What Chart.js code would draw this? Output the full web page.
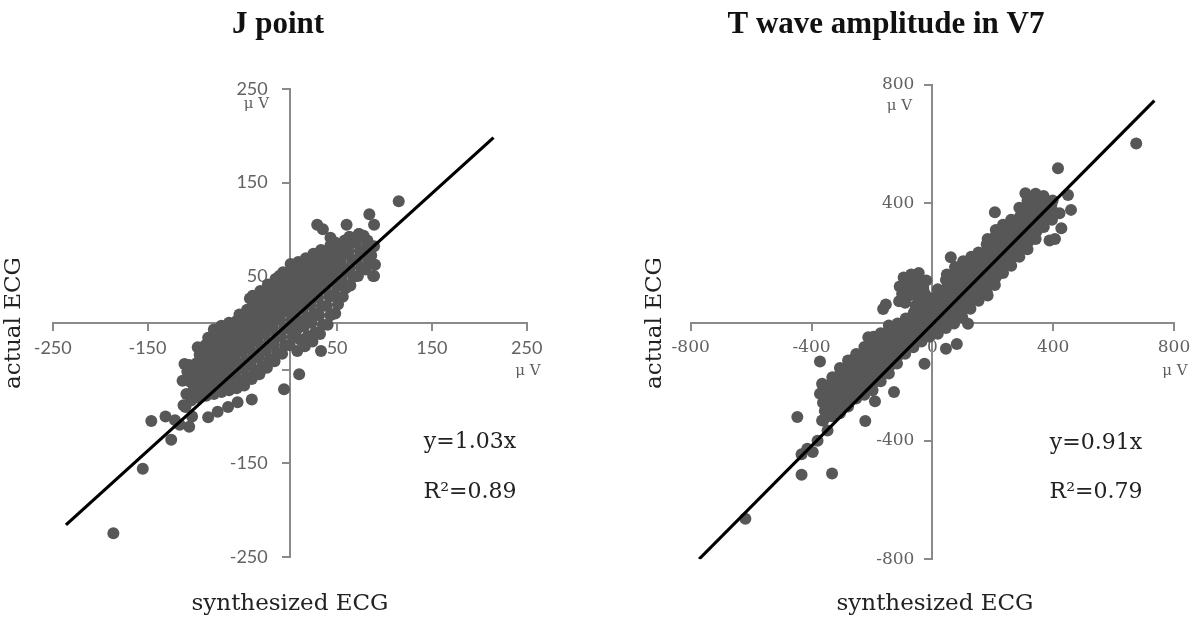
<!DOCTYPE html>
<html>
<head>
<meta charset="utf-8">
<script src="https://cdn.jsdelivr.net/npm/chart.js@4.4.1/dist/chart.umd.min.js"></script>
<style>
  html, body { margin: 0; padding: 0; background: #ffffff; }
  #wrap { position: relative; width: 1200px; height: 620px; background: #ffffff; overflow: hidden; }
  canvas { position: absolute; top: 0; }
  #cJ { left: 0; }
  #cT { left: 600px; }
</style>
</head>
<body>
<div id="wrap">
  <canvas id="cJ" width="600" height="620"></canvas>
  <canvas id="cT" width="600" height="620"></canvas>
</div>
<script>
// ---------------- data ----------------
const titles = ["J point", "T wave amplitude in V7"];
const xTitle = "synthesized ECG";
const yTitle = "actual ECG";
const unitLabel = "\u03bc V";

const jTicks = [-250, -150, -50, 50, 150, 250];
const tTicks = [-800, -400, 0, 400, 800];

const jEquation = ["y=1.03x", "R\u00b2=0.89"];
const tEquation = ["y=0.91x", "R\u00b2=0.79"];

// regression lines drawn in the figure (end points)
const jFit = [[-236, -216], [215, 198]];
const tFit = [[-772, -799], [735, 746]];

// J point: synthesized (x) vs actual (y), µV
const jPoints = [
  [115,130],[84,116],[89,105],[29,105],[35,100],[60,105],[43,91],[73,95],[82,88],[89,50],
  [-11,50],[-5,43],[-42,26],[-111,-44],[33,-30],[10,-55],[-6,-71],[-40,-82],[-55,-85],[-65,-90],
  [-76,-95],[-86,-101],[-146,-105],[-131,-100],[-121,-104],[-116,-109],[-106,-111],[-103,-100],
  [-125,-125],[-155,-156],[-186,-225],[-110,-90],[-101,-70],
  [-112,-88],[-109,-76],[-113,-62],[-108,-52],
  [-104,-83],[-101,-73],[-105,-63],[-102,-54],[-106,-45],
  [-96,-80],[-93,-71],[-97,-61],[-94,-52],[-98,-43],[-95,-34],[-97,-26],
  [-88,-78],[-85,-69],[-89,-60],[-86,-51],[-90,-42],[-87,-33],[-89,-24],[-86,-16],
  [-80,-76],[-77,-67],[-81,-58],[-78,-49],[-82,-40],[-79,-31],[-81,-22],[-78,-14],[-80,-7],
  [-72,-74],[-69,-65],[-73,-56],[-70,-47],[-74,-38],[-71,-29],[-73,-20],[-70,-11],[-72,-3],
  [-64,-72],[-61,-63],[-65,-54],[-62,-45],[-66,-36],[-63,-27],[-65,-18],[-62,-9],[-64,0],
  [-56,-70],[-53,-61],[-57,-52],[-54,-43],[-58,-34],[-55,-25],[-57,-16],[-54,-7],[-56,2],[-53,9],
  [-48,-67],[-45,-58],[-49,-49],[-46,-40],[-50,-31],[-47,-22],[-49,-13],[-46,-4],[-48,5],[-45,14],
  [-40,-60],[-37,-51],[-41,-42],[-38,-33],[-42,-24],[-39,-15],[-41,-6],[-38,3],[-40,12],[-37,21],[-39,29],
  [-32,-55],[-29,-46],[-33,-37],[-30,-28],[-34,-19],[-31,-10],[-33,-1],[-30,8],[-32,17],[-29,26],[-31,34],
  [-24,-48],[-21,-39],[-25,-30],[-22,-21],[-26,-12],[-23,-3],[-25,6],[-22,15],[-24,24],[-21,33],[-23,41],
  [-16,-41],[-13,-32],[-17,-23],[-14,-14],[-18,-5],[-15,4],[-17,13],[-14,22],[-16,31],[-13,40],[-15,47],
  [-8,-33],[-5,-24],[-9,-15],[-6,-6],[-10,3],[-7,12],[-9,21],[-6,30],[-8,39],[-5,47],[-7,54],
  [0,-24],[3,-15],[-1,-6],[2,3],[-2,12],[1,21],[-1,30],[2,39],[0,48],[3,56],[1,63],
  [8,-30],[11,-18],[7,-8],[10,2],[6,11],[9,20],[7,29],[10,38],[8,47],[11,56],[9,65],
  [16,-25],[19,-14],[15,-4],[18,6],[14,15],[17,24],[15,33],[18,42],[16,51],[19,60],[17,69],
  [24,-20],[27,-10],[23,0],[26,10],[22,19],[25,28],[23,37],[26,46],[24,55],[27,64],[25,74],
  [32,-12],[35,-2],[31,8],[34,18],[30,27],[33,36],[31,45],[34,54],[32,63],[35,72],[33,78],
  [40,-2],[43,8],[39,18],[42,28],[38,37],[41,46],[39,55],[42,64],[40,73],[43,83],
  [48,10],[51,20],[47,30],[50,39],[46,48],[49,57],[47,66],[50,75],[48,86],
  [56,28],[59,37],[55,46],[58,55],[54,64],[57,73],[55,82],[58,88],
  [64,40],[67,49],[63,58],[66,67],[62,76],[65,85],[63,92],
  [72,50],[75,59],[71,68],[74,77],[70,86],[73,95],
  [80,57],[83,66],[79,75],[82,84],[78,93],
  [88,50],[90,62],[86,72],[89,82]
];

// T wave amplitude in V7: synthesized (x) vs actual (y), µV
const tPoints = [
  [675,602],[416,518],[449,428],[459,378],[421,367],[427,316],[388,275],[406,280],[207,370],[308,434],
  [339,420],[61,218],[183,89],[118,-6],[45,-90],[81,-74],[-26,-141],[-163,44],[-154,59],[-212,-51],
  [-264,-127],[-372,-133],[-365,-208],[-353,-231],[-372,-242],[-190,-267],[-222,-334],[-447,-320],
  [-365,-332],[-433,-446],[-396,-438],[-433,-515],[-332,-511],[-619,-663],[-127,-236],
  [-347,-366],[-414,-427],[-380,-400],
  [-108,120],[-95,150],[-70,160],[-45,165],[-40,140],[-80,130],[-60,110],[-30,115],[-100,95],[-75,90],
  [-50,85],[-25,95],[-110,70],[-20,70],[-40,60],[-90,65],[-65,135],[-20,140],[-55,55],[-85,100],
  [-360,-330],[-356,-300],[-362,-272],[-357,-245],[-361,-218],
  [-333,-318],[-329,-290],[-335,-263],[-330,-236],[-334,-208],[-331,-186],
  [-306,-308],[-302,-280],[-308,-253],[-303,-226],[-307,-198],[-304,-170],[-306,-155],
  [-279,-285],[-275,-258],[-281,-231],[-276,-203],[-280,-176],[-277,-150],[-279,-130],
  [-252,-258],[-248,-232],[-254,-205],[-249,-178],[-253,-151],[-250,-125],[-252,-108],
  [-225,-245],[-221,-218],[-227,-191],[-222,-164],[-226,-137],[-223,-110],[-225,-84],
  [-198,-230],[-194,-203],[-200,-176],[-195,-149],[-199,-122],[-196,-95],[-198,-68],[-195,-50],
  [-171,-200],[-167,-173],[-173,-146],[-168,-119],[-172,-92],[-169,-65],[-171,-38],
  [-144,-174],[-140,-147],[-146,-120],[-141,-93],[-145,-66],[-142,-39],[-144,-12],
  [-117,-140],[-113,-113],[-119,-86],[-114,-59],[-118,-32],[-115,-5],
  [-90,-107],[-86,-80],[-92,-53],[-87,-26],[-91,1],[-88,12],
  [-63,-85],[-59,-58],[-65,-31],[-60,-4],[-64,23],[-61,32],
  [-36,-66],[-32,-39],[-38,-12],[-33,15],[-37,42],[-34,52],
  [-9,-50],[-5,-23],[-11,4],[-6,31],[-10,58],[-7,80],
  [18,-40],[22,-13],[16,14],[21,41],[17,68],[20,95],[18,110],
  [45,-20],[49,7],[43,34],[48,61],[44,88],[47,115],[45,142],[48,160],
  [72,-5],[76,22],[70,49],[75,76],[71,103],[74,130],[72,157],[75,185],
  [99,16],[103,43],[97,70],[102,97],[98,124],[101,151],[99,178],[102,205],
  [126,45],[130,72],[124,99],[129,126],[125,153],[128,180],[126,207],[129,220],
  [153,72],[157,99],[151,126],[156,153],[152,180],[155,207],[153,234],
  [180,100],[184,127],[178,154],[183,181],[179,208],[182,235],[180,262],[183,280],
  [207,125],[211,152],[205,179],[210,206],[206,233],[209,260],[207,287],[210,310],
  [234,165],[238,192],[232,219],[237,246],[233,273],[236,300],[234,328],
  [261,190],[265,217],[259,244],[264,271],[260,298],[263,325],[261,345],
  [288,220],[292,247],[286,274],[291,301],[287,328],[290,355],[288,385],
  [315,245],[319,272],[313,299],[318,326],[314,353],[317,380],[315,410],
  [342,280],[346,307],[340,334],[345,361],[341,388],[344,415],[342,432],
  [369,320],[373,347],[367,374],[372,401],[368,425],
  [396,345],[400,372],[394,395],[398,410]
];

// ---------------- rendering ----------------
const AXIS_COLOR = '#8a8a8a';
const TICK_TEXT = '#626262';
const DOT = '#575757';

function textPlugin(items) {
  return {
    id: 'txt',
    afterDraw(chart) {
      const ctx = chart.ctx;
      items.forEach(it => {
        ctx.save();
        ctx.font = it.font;
        ctx.fillStyle = it.color;
        ctx.textAlign = it.align || 'center';
        ctx.textBaseline = it.baseline || 'middle';
        ctx.translate(it.x, it.y);
        if (it.rot) ctx.rotate(it.rot);
        ctx.fillText(it.text, 0, 0);
        ctx.restore();
      });
    }
  };
}

function axis(min, max, ticks, tickFont, pad) {
  return {
    type: 'linear',
    position: 'center',
    min: min, max: max,
    afterBuildTicks: s => { s.ticks = ticks.map(v => ({ value: v })); },
    grid: { drawOnChartArea: false, drawTicks: true, tickLength: 7,
            color: AXIS_COLOR, tickColor: AXIS_COLOR, tickWidth: 2, lineWidth: 2 },
    border: { display: true, color: AXIS_COLOR, width: 2 },
    ticks: { autoSkip: false, maxRotation: 0, minRotation: 0, padding: pad,
             color: TICK_TEXT, font: tickFont }
  };
}

function makeChart(id, pts, fit, ticks, lim, tickFont, padding, yPad, texts) {
  new Chart(document.getElementById(id), {
    type: 'scatter',
    data: {
      datasets: [
        { data: fit.map(p => ({ x: p[0], y: p[1] })), showLine: true, borderColor: '#000000',
          borderWidth: 3.2, pointRadius: 0, fill: false, order: 0 },
        { data: pts.map(p => ({ x: p[0], y: p[1] })), backgroundColor: DOT, borderWidth: 0,
          pointRadius: 6, order: 1 }
      ]
    },
    options: {
      responsive: false, animation: false, events: [],
      layout: { padding: padding },
      plugins: { legend: { display: false }, tooltip: { enabled: false }, title: { display: false } },
      scales: {
        x: axis(-lim, lim, ticks, tickFont, 8),
        y: axis(-lim, lim, ticks, tickFont, yPad)
      }
    },
    plugins: [textPlugin(texts)]
  });
}

const TITLE_FONT = 'bold 31px "Liberation Serif"';
const AXT_FONT = '23px "DejaVu Serif"';
const UNIT_FONT = '15px "DejaVu Serif"';
const EQ_FONT = '22px "DejaVu Serif"';

makeChart('cJ', jPoints, jFit, jTicks, 250, { family: 'Lato', size: 18 },
  { left: 52.7, right: 73.3, top: 89, bottom: 63.3 }, 15, [
    { text: titles[0], x: 278, y: 33, font: TITLE_FONT, color: '#111', baseline: 'alphabetic' },
    { text: yTitle, x: 14, y: 323, font: AXT_FONT, color: '#222', rot: -Math.PI / 2 },
    { text: xTitle, x: 290, y: 610, font: AXT_FONT, color: '#222', baseline: 'alphabetic' },
    { text: unitLabel, x: 269, y: 104, font: UNIT_FONT, color: '#5e5e5e', align: 'right' },
    { text: unitLabel, x: 528, y: 371, font: UNIT_FONT, color: '#5e5e5e' },
    { text: jEquation[0], x: 470, y: 442, font: EQ_FONT, color: '#222' },
    { text: jEquation[1], x: 470, y: 492, font: EQ_FONT, color: '#222' }
  ]);

makeChart('cT', tPoints, tFit, tTicks, 800, { family: 'DejaVu Serif', size: 17 },
  { left: 90.7, right: 26, top: 84.7, bottom: 60.7 }, 11, [
    { text: titles[1], x: 286, y: 33, font: TITLE_FONT, color: '#111', baseline: 'alphabetic' },
    { text: yTitle, x: 55, y: 323, font: AXT_FONT, color: '#222', rot: -Math.PI / 2 },
    { text: xTitle, x: 335, y: 610, font: AXT_FONT, color: '#222', baseline: 'alphabetic' },
    { text: unitLabel, x: 312, y: 106, font: UNIT_FONT, color: '#5e5e5e', align: 'right' },
    { text: unitLabel, x: 575, y: 371, font: UNIT_FONT, color: '#5e5e5e' },
    { text: tEquation[0], x: 496, y: 443, font: EQ_FONT, color: '#222' },
    { text: tEquation[1], x: 496, y: 492, font: EQ_FONT, color: '#222' }
  ]);
</script>
</body>
</html>
